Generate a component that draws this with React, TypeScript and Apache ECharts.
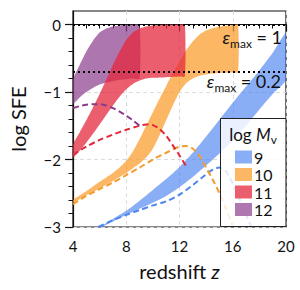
import React, { useEffect, useRef } from 'react';
import * as echarts from 'echarts';

const FONT = "Lato, 'DejaVu Sans', sans-serif";

// axis ticks
const xTickValues = [4, 8, 12, 16, 20];
const yMajorTicks = [-3, -2, -1, 0];
const yMinorTicks = [-2.8, -2.6, -2.4, -2.2, -1.8, -1.6, -1.4, -1.2, -0.8, -0.6, -0.4, -0.2];
const massLabels = ['9', '10', '11', '12'];
const epsMaxLevels = [1, 0.2];
const epsMaxLabels = ['1', '0.2'];

// band log Mv = 9 (blue)
const z9 = [5.5, 6, 7, 8, 9, 10, 11, 12, 13, 14, 15, 16, 17, 18, 19, 20];
const up9 = [-3.06, -3.0, -2.88, -2.76, -2.61, -2.45, -2.29, -2.11, -1.9, -1.66, -1.41, -1.16, -0.92, -0.68, -0.42, -0.13];
const lo9 = [-3.1, -3.02, -2.92, -2.82, -2.73, -2.64, -2.54, -2.41, -2.26, -2.09, -1.91, -1.72, -1.5, -1.26, -1.03, -0.82];

// band log Mv = 10 (orange)
const z10 = [4, 5, 6, 7, 7.5, 8, 8.5, 9, 9.5, 10, 10.5, 11, 11.5, 12, 12.5, 13, 13.5, 14, 15, 16, 16.4];
const up10 = [-2.6, -2.47, -2.33, -2.2, -2.12, -2.02, -1.88, -1.7, -1.5, -1.3, -1.1, -0.91, -0.72, -0.55, -0.38, -0.25, -0.15, -0.09, -0.03, -0.01, 0];
const lo10 = [-2.64, -2.53, -2.43, -2.32, -2.26, -2.2, -2.13, -2.06, -1.97, -1.84, -1.64, -1.42, -1.2, -1.0, -0.87, -0.8, -0.76, -0.74, -0.72, -0.71, -0.71];

// band log Mv = 11 (red)
const z11 = [4, 4.5, 5, 5.5, 6, 6.5, 7, 7.5, 8, 8.5, 9, 9.5, 10, 11, 12, 12.4];
const up11 = [-1.78, -1.6, -1.42, -1.23, -1.03, -0.82, -0.6, -0.4, -0.23, -0.12, -0.06, -0.03, -0.015, 0, 0, 0];
const lo11 = [-1.97, -1.87, -1.75, -1.62, -1.48, -1.34, -1.2, -1.07, -0.96, -0.88, -0.83, -0.8, -0.79, -0.78, -0.77, -0.77];

// band log Mv = 12 (purple)
const z12 = [4, 4.5, 5, 5.5, 6, 6.5, 7, 7.5, 8, 8.5, 9];
const up12 = [-0.82, -0.6, -0.4, -0.24, -0.12, -0.06, -0.03, -0.015, -0.005, 0, 0];
const lo12 = [-1.17, -1.08, -1.0, -0.94, -0.89, -0.86, -0.84, -0.82, -0.81, -0.8, -0.8];

// dashed curves
const zd9 = [5.9, 7, 8, 9, 10, 11, 12, 13, 14, 14.5, 15, 15.5, 16, 16.5, 17, 17.4];
const d9 = [-3.0, -2.9, -2.82, -2.75, -2.68, -2.62, -2.52, -2.38, -2.22, -2.15, -2.12, -2.18, -2.36, -2.58, -2.82, -3.0];
const zd10 = [4, 5, 6, 7, 8, 9, 10, 11, 11.5, 12, 12.5, 13, 13.5, 14, 14.5, 15, 15.5, 16];
const d10 = [-2.66, -2.54, -2.44, -2.34, -2.23, -2.12, -2.0, -1.9, -1.85, -1.81, -1.8, -1.84, -1.95, -2.12, -2.3, -2.5, -2.73, -2.98];
const zd11 = [4, 5, 6, 7, 8, 9, 9.5, 10, 10.5, 11, 11.5, 12, 12.5];
const d11 = [-1.93, -1.81, -1.71, -1.63, -1.56, -1.5, -1.48, -1.49, -1.55, -1.65, -1.79, -1.94, -2.1];
const zd12 = [4, 4.5, 5, 5.5, 6, 6.5, 7, 7.5, 8, 8.5, 9];
const d12 = [-1.24, -1.21, -1.19, -1.18, -1.18, -1.2, -1.24, -1.29, -1.35, -1.42, -1.5];

const bandColors = ['rgba(60,120,240,0.6)', 'rgba(250,155,40,0.72)', 'rgba(228,40,60,0.75)', 'rgba(140,60,140,0.7)'];
const swatchColors = ['#8AAEF6', '#FBB764', '#EB5E6D', '#AF77AF'];
const lineColors = ['#4E86EE', '#F39C2E', '#E3283E', '#8B3A8B'];

const minus = (v: number) => String(v).replace('-', '\u2212');

function bandSeries(z: number[], lo: number[], up: number[], color: string) {
  return {
    type: 'custom', clip: true, silent: true,
    data: z.map((v, i) => [v, lo[i], up[i]]),
    encode: { x: 0, y: [1, 2] },
    renderItem: (params: any, api: any) => {
      if (params.dataIndex !== 0) return null;
      const top = z.map((v, i) => api.coord([v, up[i]]));
      const bottom = z.map((v, i) => api.coord([v, lo[i]])).reverse();
      return {
        type: 'group',
        children: [
          {
            type: 'polygon',
            shape: { points: top.concat(bottom), smooth: 0.2 },
            style: { fill: color },
          },
        ],
      };
    },
  };
}

function dashedSeries(z: number[], d: number[], color: string) {
  return {
    type: 'line', data: z.map((v, i) => [v, d[i]]), symbol: 'none', smooth: 0.3,
    lineStyle: { color, width: 2, type: [6, 3.5] }, silent: true,
  };
}

export default function App() {
  const ref = useRef<HTMLDivElement>(null);
  useEffect(() => {
    if (!ref.current) return;
    const chart = echarts.init(ref.current, undefined, { renderer: 'svg' });
    const Z = 100;
    const entryY = [157, 174.5, 192, 209.5];
    const legendEls: any[] = [
      {
        type: 'rect', z: Z, shape: { x: 220.5, y: 118.5, width: 65.5, height: 108 },
        style: { fill: 'rgba(255,255,255,0.82)', stroke: '#222', lineWidth: 1 },
      },
      {
        type: 'text', z: Z + 1, x: 253, y: 134,
        style: {
          text: '{a|log }{m|M}{s|v}', align: 'center', verticalAlign: 'middle',
          rich: {
            a: { fontSize: 17, fontFamily: FONT, fill: '#111', lineHeight: 22 },
            m: { fontSize: 17, fontFamily: FONT, fontStyle: 'italic', fill: '#111', lineHeight: 22 },
            s: { fontSize: 12, fontFamily: FONT, fill: '#111', verticalAlign: 'bottom', lineHeight: 12 },
          },
        },
      },
    ];
    massLabels.forEach((m, i) => {
      legendEls.push({
        type: 'rect', z: Z + 1, shape: { x: 235, y: entryY[i] - 6.5, width: 17, height: 13 },
        style: { fill: swatchColors[i] },
      });
      legendEls.push({
        type: 'text', z: Z + 1, x: 254, y: entryY[i],
        style: { text: m, fontSize: 16, fontFamily: FONT, fill: '#111', align: 'left', verticalAlign: 'middle' },
      });
    });
    const epsY = [37, 81];
    const epsX = [282, 281];
    const epsEls = epsMaxLabels.map((lab, i) => ({
      type: 'text', z: Z + 1, x: epsX[i], y: epsY[i],
      style: {
        text: '{e|\u03b5}{s|max}{n| = ' + lab + '}', align: 'right', verticalAlign: 'middle',
        rich: {
          e: { fontSize: 18, fontFamily: FONT, fontStyle: 'italic', fill: '#111', lineHeight: 24 },
          s: { fontSize: 12, fontFamily: FONT, fill: '#111', verticalAlign: 'bottom', lineHeight: 12 },
          n: { fontSize: 18, fontFamily: FONT, fill: '#111', lineHeight: 24 },
        },
      },
    }));

    const option: any = {
      animation: false,
      grid: { left: 70, right: 14, top: 11, bottom: 63, show: true, borderColor: '#111', borderWidth: 1.2, backgroundColor: 'transparent' },
      xAxis: {
        type: 'value', min: xTickValues[0], max: xTickValues[xTickValues.length - 1], interval: 4,
        axisLine: { show: true, lineStyle: { color: '#111', width: 1.2 } },
        axisTick: { show: true, length: 7, lineStyle: { color: '#111', width: 1.2 } },
        minorTick: { show: true, splitNumber: 4, length: 4, lineStyle: { color: '#111', width: 1 } },
        axisLabel: { fontSize: 15, fontFamily: FONT, color: '#111', margin: 11 },
        splitLine: { show: true, lineStyle: { color: '#dcdcdc', type: [4, 3], width: 1 } },
        name: 'redshift {i|z}', nameLocation: 'middle', nameGap: 34,
        nameTextStyle: { fontSize: 20, fontFamily: FONT, color: '#111', rich: { i: { fontSize: 20, fontFamily: FONT, fontStyle: 'italic', color: '#111' } } },
      },
      yAxis: [
        {
          type: 'value', min: -3, max: 0.2, interval: 1,
          axisLine: { show: true, lineStyle: { color: '#111', width: 1.2 } },
          axisTick: { show: true, length: 8, customValues: yMajorTicks, lineStyle: { color: '#111', width: 1.2 } },
          axisLabel: { customValues: yMajorTicks, formatter: minus, fontSize: 15, fontFamily: FONT, color: '#111', margin: 12 },
          splitLine: { show: true, lineStyle: { color: '#dcdcdc', type: [4, 3], width: 1 } },
          name: 'log SFE', nameLocation: 'middle', nameGap: 45,
          nameTextStyle: { fontSize: 20, fontFamily: FONT, color: '#111' },
        },
        {
          type: 'value', min: -3, max: 0.2, position: 'left',
          axisLine: { show: false },
          axisTick: { show: true, length: 4.5, customValues: yMinorTicks, lineStyle: { color: '#111', width: 1 } },
          axisLabel: { show: false, customValues: yMinorTicks },
          splitLine: { show: false },
        },
      ],
      series: [
        dashedSeries(zd9, d9, lineColors[0]),
        dashedSeries(zd10, d10, lineColors[1]),
        dashedSeries(zd11, d11, lineColors[2]),
        dashedSeries(zd12, d12, lineColors[3]),
        bandSeries(z9, lo9, up9, bandColors[0]),
        bandSeries(z12, lo12, up12, bandColors[3]),
        bandSeries(z10, lo10, up10, bandColors[1]),
        bandSeries(z11, lo11, up11, bandColors[2]),
        {
          type: 'line', data: [], silent: true,
          markLine: {
            symbol: 'none', silent: true, animation: false,
            label: { show: false },
            lineStyle: { color: '#000', width: 2, type: [2, 3] },
            data: epsMaxLevels.map((e) => ({ yAxis: Math.log10(e) })),
          },
        },
      ],
      graphic: [...legendEls, ...epsEls],
    };
    chart.setOption(option);
    return () => chart.dispose();
  }, []);
  return <div ref={ref} style={{ position: 'absolute', left: 0, top: 0, width: 300, height: 290 }} />;
}
